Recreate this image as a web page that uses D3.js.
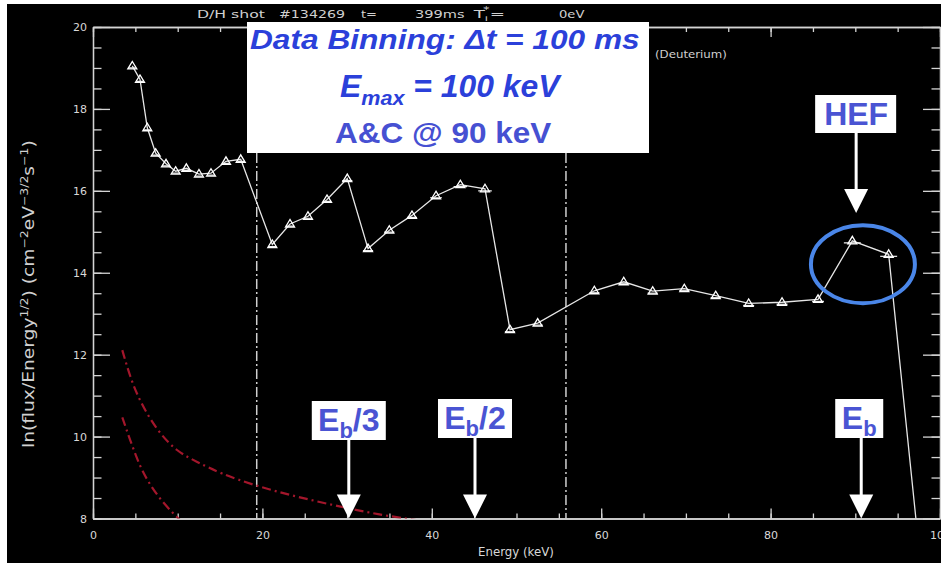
<!DOCTYPE html>
<html>
<head>
<meta charset="utf-8">
<script src="https://cdn.jsdelivr.net/npm/d3@7"></script>
<style>
  html, body { margin: 0; padding: 0; background: #fff; }
  svg { display: block; }
</style>
</head>
<body>
<svg id="chart" width="941" height="569"></svg>
<script>
// Measured spectrum: bin energy (keV), ln(flux/E^1/2) and half bin width (keV)
const energy = [4.64, 5.55, 6.41, 7.40, 8.62, 9.76, 11.02, 12.51, 13.93, 15.70, 17.44,
  21.17, 23.26, 25.38, 27.63, 30.02, 32.47, 34.98, 37.66, 40.50, 43.37, 46.28,
  49.23, 52.50, 59.19, 62.66, 66.08, 69.81, 73.52, 77.41, 81.35, 85.60, 89.65, 93.94, 97.9];
const lnFlux = [19.05, 18.72, 17.54, 16.92, 16.66, 16.48, 16.55, 16.41, 16.43, 16.72, 16.77,
  14.69, 15.19, 15.38, 15.79, 16.30, 14.59, 15.04, 15.40, 15.88, 16.15, 16.05,
  12.61, 12.77, 13.56, 13.78, 13.55, 13.61, 13.44, 13.25, 13.28, 13.35, 14.78, 14.45, 6.5];
const energyErr = [0.4, 0.4, 0.4, 0.4, 0.4, 0.4, 0.4, 0.4, 0.4, 0.4, 0.4,
  0.5, 0.5, 0.5, 0.5, 0.6, 0.6, 0.6, 0.6, 0.7, 0.8, 0.8,
  0.6, 0.6, 0.6, 0.7, 0.6, 0.6, 0.6, 0.65, 0.65, 0.7, 1.0, 1.0, 0];

// Model curves (dash-dot, dark red)
const fitUpperE = [3.46, 4.37, 5.55, 7.52, 9.88, 12.24, 14.99, 19.33, 24.05, 29.16, 33.88, 38.22];
const fitUpperV = [12.11, 11.46, 10.85, 10.16, 9.63, 9.39, 9.10, 8.79, 8.53, 8.29, 8.09, 7.96];
const fitLowerE = [3.46, 4.37, 5.55, 6.73, 8.30, 10.27];
const fitLowerV = [10.47, 9.92, 9.26, 8.82, 8.37, 7.96];

// Vertical dash-dot markers (keV)
const markerLines = [19.33, 55.84];

// Axis ticks
const xMajor = [0, 20, 40, 60, 80, 100];
const xMinor = d3.range(0, 101, 5);
const yMajor = [8, 10, 12, 14, 16, 18, 20];
const yMinor = d3.range(8, 20.01, 0.5);

// Beam energy annotations
const beamLabels = ["/3", "/2", ""];
const beamEnergy = [30.2, 45.1, 90.7];
const hefEnergy = 90.1;
const hefCentre = [90.9, 14.21];

const svg = d3.select("#chart");
const W = 941, H = 569;

svg.append("rect").attr("width", W).attr("height", H).attr("fill", "#fff");
svg.append("rect").attr("x", 7).attr("y", 4).attr("width", W - 7).attr("height", 559).attr("fill", "#000");

const x = d3.scaleLinear().domain([0, 100]).range([93, 940]);
const y = d3.scaleLinear().domain([8, 20]).range([518.5, 27]);

const axisColor = "#d4d4d4";
const tickFont = "DejaVu Sans, sans-serif";

svg.append("defs").append("clipPath").attr("id", "plotClip")
  .append("rect").attr("x", x(0)).attr("y", y(20)).attr("width", x(100) - x(0)).attr("height", y(8) - y(20));

function styleAxis(g) {
  g.selectAll("path, line").attr("stroke", axisColor).attr("stroke-width", 1.3);
  g.selectAll("text").attr("fill", "#d8d8d8").attr("font-family", tickFont).attr("font-size", 11);
}

// Axes: majors with labels, minors as shorter inward ticks
svg.append("g").attr("transform", `translate(0,${y(8)})`)
  .call(d3.axisBottom(x).tickValues(xMinor).tickSize(-5).tickSizeOuter(0).tickFormat(""))
  .call(styleAxis);
svg.append("g").attr("transform", `translate(0,${y(8)})`)
  .call(d3.axisBottom(x).tickValues(xMajor).tickSize(-10).tickSizeOuter(0).tickPadding(13).tickFormat(d3.format("d")))
  .call(styleAxis);
svg.append("g").attr("transform", `translate(0,${y(20)})`)
  .call(d3.axisTop(x).tickValues(xMinor).tickSize(-5).tickSizeOuter(0).tickFormat(""))
  .call(styleAxis);
svg.append("g").attr("transform", `translate(0,${y(20)})`)
  .call(d3.axisTop(x).tickValues(xMajor).tickSize(-10).tickSizeOuter(0).tickFormat(""))
  .call(styleAxis);
svg.append("g").attr("transform", `translate(${x(0)},0)`)
  .call(d3.axisLeft(y).tickValues(yMinor).tickSize(-8.5).tickSizeOuter(0).tickFormat(""))
  .call(styleAxis);
svg.append("g").attr("transform", `translate(${x(0)},0)`)
  .call(d3.axisLeft(y).tickValues(yMajor).tickSize(-17).tickSizeOuter(0).tickPadding(6).tickFormat(d3.format("d")))
  .call(styleAxis);
svg.append("g").attr("transform", `translate(${x(100)},0)`)
  .call(d3.axisRight(y).tickValues(yMinor).tickSize(-8.5).tickSizeOuter(0).tickFormat(""))
  .call(styleAxis);
svg.append("g").attr("transform", `translate(${x(100)},0)`)
  .call(d3.axisRight(y).tickValues(yMajor).tickSize(-17).tickSizeOuter(0).tickFormat(""))
  .call(styleAxis);

// Stretch a text element horizontally to a given width, starting at x0
function fitWidth(t, x0, width) {
  const b = t.node().getBBox();
  const k = width / b.width;
  t.attr("transform", `translate(${x0},0) scale(${k},1) translate(${-b.x},0)`);
}

// Axis titles
const xt = svg.append("text").attr("y", 556).attr("fill", "#d8d8d8")
  .attr("font-family", tickFont).attr("font-size", 11.5).text("Energy (keV)");
fitWidth(xt, 478, 76);

const ylab = svg.append("g").attr("transform", "translate(34,294) rotate(-90)");
const yt = ylab.append("text").attr("fill", "#d0d0d0").attr("font-family", tickFont)
  .attr("font-size", 15);
yt.append("tspan").text("ln(flux/Energy");
yt.append("tspan").attr("font-size", 10).attr("dy", -6).text("1/2");
yt.append("tspan").attr("dy", 6).text(")  (cm");
yt.append("tspan").attr("font-size", 10).attr("dy", -6).text("−2");
yt.append("tspan").attr("dy", 6).text("eV");
yt.append("tspan").attr("font-size", 10).attr("dy", -6).text("−3/2");
yt.append("tspan").attr("dy", 6).text("s");
yt.append("tspan").attr("font-size", 10).attr("dy", -6).text("−1");
yt.append("tspan").attr("dy", 6).text(")");
fitWidth(yt, -154, 308);

// Header line
const header = [["D/H shot", 197, 69], ["#134269", 279, 66], ["t=", 361, 16], ["399ms", 415, 50], ["0eV", 559, 26]];
header.forEach(([s, x0, w]) => {
  const t = svg.append("text").attr("y", 18.5).attr("fill", "#d0d0d0")
    .attr("font-family", tickFont).attr("font-size", 11).text(s);
  fitWidth(t, x0, w);
});
const ti = svg.append("text").attr("y", 18.5).attr("fill", "#d0d0d0")
  .attr("font-family", tickFont).attr("font-size", 11);
ti.append("tspan").text("T");
ti.append("tspan").attr("font-size", 7).attr("dy", 3).text("i");
ti.append("tspan").attr("font-size", 8).attr("dy", -8).attr("dx", -3).text("*");
ti.append("tspan").attr("dy", 5).text("=");
fitWidth(ti, 472, 33);

const deut = svg.append("text").attr("y", 58).attr("fill", "#d0d0d0")
  .attr("font-family", tickFont).attr("font-size", 11).text("(Deuterium)");
fitWidth(deut, 655, 72);

const plot = svg.append("g").attr("clip-path", "url(#plotClip)");

// Vertical dash-dot lines
plot.selectAll("line.mark").data(markerLines).join("line")
  .attr("x1", d => x(d)).attr("x2", d => x(d))
  .attr("y1", y(20)).attr("y2", y(8))
  .attr("stroke", "#cfcfcf").attr("stroke-width", 1.5)
  .attr("stroke-dasharray", "10,3,2,3");

// Model curves
const curve = d3.line().x(d => x(d[0])).y(d => y(d[1])).curve(d3.curveBasis);
[[fitUpperE, fitUpperV], [fitLowerE, fitLowerV]].forEach(([es, vs]) => {
  plot.append("path").datum(es.map((e, i) => [e, vs[i]]))
    .attr("d", curve).attr("fill", "none")
    .attr("stroke", "#a3162b").attr("stroke-width", 2.2)
    .attr("stroke-dasharray", "9,4,2,4");
});

// Spectrum line, bin-width bars and triangle markers
const pts = energy.map((e, i) => ({ e, v: lnFlux[i], err: energyErr[i] }));
plot.append("path").datum(pts)
  .attr("d", d3.line().x(d => x(d.e)).y(d => y(d.v)))
  .attr("fill", "none").attr("stroke", "#e6e6e6").attr("stroke-width", 1.3);
plot.selectAll("line.err").data(pts).join("line")
  .attr("x1", d => x(d.e - d.err)).attr("x2", d => x(d.e + d.err))
  .attr("y1", d => y(d.v) + 2).attr("y2", d => y(d.v) + 2)
  .attr("stroke", "#f0f0f0").attr("stroke-width", 1.2);
plot.selectAll("path.tri").data(pts).join("path")
  .attr("d", d => {
    const cx = x(d.e), cy = y(d.v);
    return `M${cx - 4.5},${cy + 3}L${cx},${cy - 4.5}L${cx + 4.5},${cy + 3}Z`;
  })
  .attr("fill", "none").attr("stroke", "#fff").attr("stroke-width", 1.3);

// HEF highlight ellipse
svg.append("ellipse")
  .attr("cx", x(hefCentre[0])).attr("cy", y(hefCentre[1]))
  .attr("rx", 52).attr("ry", 39)
  .attr("fill", "none").attr("stroke", "#4a86e8").attr("stroke-width", 4);

// Arrow helper: shaft from y0 to the head, tip at y1
function arrow(cx, y0, y1) {
  svg.append("line").attr("x1", cx).attr("x2", cx).attr("y1", y0).attr("y2", y1 - 22)
    .attr("stroke", "#fff").attr("stroke-width", 3);
  svg.append("path").attr("d", `M${cx - 12},${y1 - 24}L${cx + 12},${y1 - 24}L${cx},${y1}Z`)
    .attr("fill", "#fff");
}

const labelBlue = "#4a54d3";

// Beam-energy boxes and arrows
const boxW = [74, 74, 48];
const boxY = [401, 399, 399];
beamEnergy.forEach((e, i) => {
  const cx = x(e);
  const bx = cx - boxW[i] / 2 - (i === 2 ? 2 : 0);
  svg.append("rect").attr("x", bx).attr("y", boxY[i]).attr("width", boxW[i]).attr("height", 39).attr("fill", "#fff");
  const t = svg.append("text").attr("x", bx + boxW[i] / 2).attr("y", boxY[i] + 30)
    .attr("text-anchor", "middle").attr("fill", labelBlue)
    .attr("font-family", "Liberation Sans, Arial, sans-serif").attr("font-weight", "bold").attr("font-size", 32);
  t.append("tspan").text("E");
  t.append("tspan").attr("font-size", 22).attr("dy", 7).text("b");
  if (beamLabels[i]) t.append("tspan").attr("dy", -7).text(beamLabels[i]);
  arrow(cx, boxY[i] + 39, y(8));
});

// HEF box and arrow
const hx = x(hefEnergy);
svg.append("rect").attr("x", hx - 41).attr("y", 95).attr("width", 81).attr("height", 38).attr("fill", "#fff");
svg.append("text").attr("x", hx).attr("y", 125).attr("text-anchor", "middle")
  .attr("fill", labelBlue).attr("font-family", "Liberation Sans, Arial, sans-serif")
  .attr("font-weight", "bold").attr("font-size", 32).text("HEF");
arrow(hx, 133, 213);

// Settings box
svg.append("rect").attr("x", 247).attr("y", 22).attr("width", 402).attr("height", 131).attr("fill", "#fff");
const f = "Liberation Sans, Arial, sans-serif";
const l1 = svg.append("text").attr("y", 49).attr("fill", "#2b40da").attr("font-family", f)
  .attr("font-weight", "bold").attr("font-style", "italic").attr("font-size", 27)
  .text("Data Binning: Δt = 100 ms");
fitWidth(l1, 250, 390);
const l2 = svg.append("text").attr("y", 97).attr("fill", "#2b40da").attr("font-family", f)
  .attr("font-weight", "bold").attr("font-style", "italic").attr("font-size", 31);
l2.append("tspan").text("E");
l2.append("tspan").attr("font-size", 21).attr("dy", 8).text("max");
l2.append("tspan").attr("dy", -8).text(" = 100 keV");
fitWidth(l2, 340, 222);
const l3 = svg.append("text").attr("y", 143).attr("fill", "#4650d2").attr("font-family", f)
  .attr("font-weight", "bold").attr("font-size", 29).text("A&C @ 90 keV");
fitWidth(l3, 335, 217);
</script>
</body>
</html>
